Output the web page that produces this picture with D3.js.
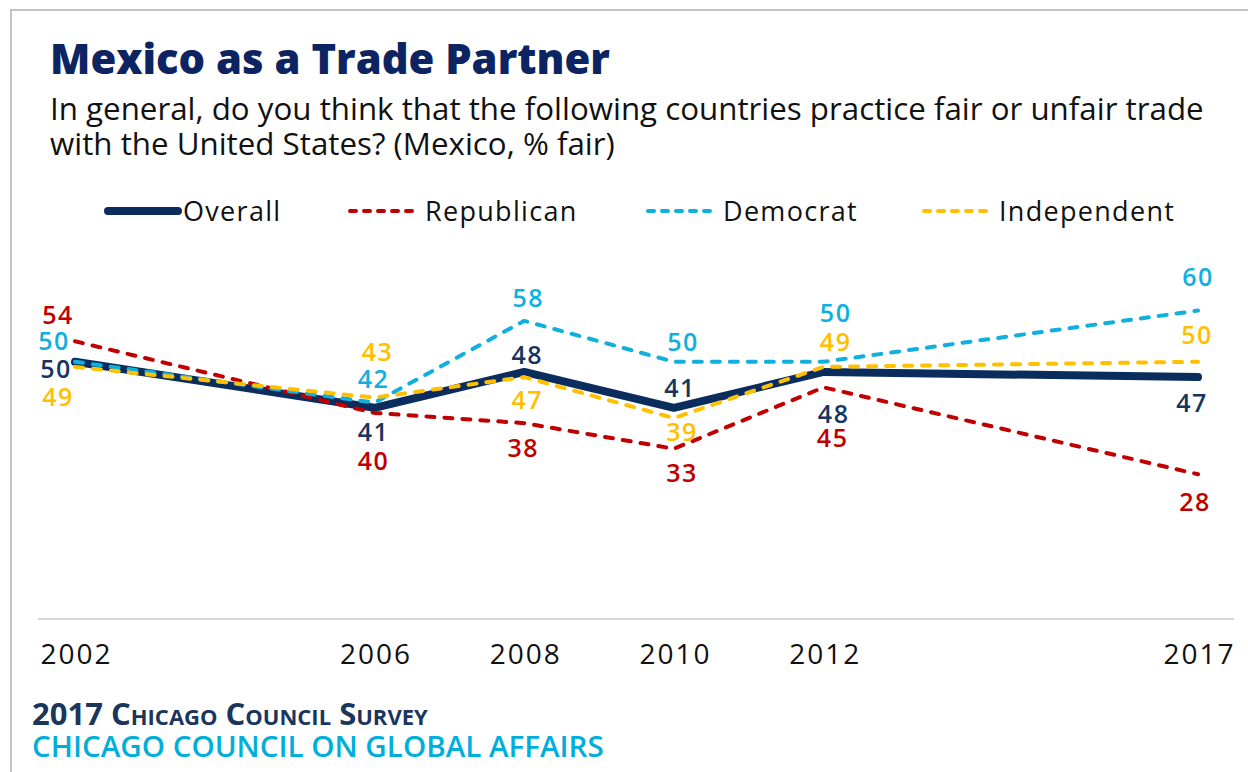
<!DOCTYPE html>
<html>
<head>
<meta charset="utf-8">
<script src="https://cdn.jsdelivr.net/npm/d3@7"></script>
<style>
  body { margin: 0; background: #fff; }
  svg { display: block; }
  text { font-family: "Open Sans", "Noto Sans", sans-serif; }
</style>
</head>
<body>
<svg id="chart" width="1248" height="772"></svg>
<script>
// Survey years and share (%) saying Mexico practices fair trade
const years = [2002, 2006, 2008, 2010, 2012, 2017];
const overall = [50, 41, 48, 41, 48, 47];
const republican = [54, 40, 38, 33, 45, 28];
const democrat = [50, 42, 58, 50, 50, 60];
const independent = [49, 43, 47, 39, 49, 50];
const seriesNames = ["Overall", "Republican", "Democrat", "Independent"];

// Per-point label nudges [dx, dy] from each data point (layout only)
const labelNudges = {
  Overall:     [[-20, 7], [-2, 24], [2, -17], [5, -20], [9, 42], [-7, 26]],
  Republican:  [[-18, -26], [-2, 48], [-2, 25], [7, 24], [8, 51], [-4, 28]],
  Democrat:    [[-22, -21], [-2, -24], [3, -23], [8, -20], [11, -49], [-1, -34]],
  Independent: [[-18, 30], [2, -46], [2, 23], [7, 14], [11, -25], [-2, -27]]
};

const series = [
  { name: seriesNames[0], values: overall, color: "#0b2d5e", labelColor: "#17355f", width: 8, dash: null, legendDash: null },
  { name: seriesNames[1], values: republican, color: "#c00000", labelColor: "#c00000", width: 4, dash: "8,10", legendDash: "6,8" },
  { name: seriesNames[2], values: democrat, color: "#0fb0dd", labelColor: "#0fb0dd", width: 4, dash: "8,10", legendDash: "6,8" },
  { name: seriesNames[3], values: independent, color: "#ffc000", labelColor: "#ffc000", width: 4, dash: "8,10", legendDash: "6,8" }
];

const svg = d3.select("#chart");

// Frame lines on top and left
svg.append("line").attr("x1", 11).attr("y1", 10).attr("x2", 1248).attr("y2", 10)
  .attr("stroke", "#c3c3c3").attr("stroke-width", 2);
svg.append("line").attr("x1", 11).attr("y1", 9).attr("x2", 11).attr("y2", 772)
  .attr("stroke", "#c3c3c3").attr("stroke-width", 2);

// Scale a text's font size so that it spans the given width
function fitWidth(sel, width) {
  const w = sel.node().getComputedTextLength();
  const fs = parseFloat(sel.attr("font-size"));
  const size = fs * width / w;
  sel.attr("font-size", size);
  return size;
}

// Title and question text
const title = svg.append("text").attr("x", 50).attr("y", 74)
  .attr("font-size", 43).attr("font-weight", 800).attr("fill", "#0c2461")
  .text("Mexico as a Trade Partner");
fitWidth(title, 560);

const sub1 = svg.append("text").attr("x", 50).attr("y", 120)
  .attr("font-size", 28).attr("fill", "#111")
  .text("In general, do you think that the following countries practice fair or unfair trade");
const subSize = fitWidth(sub1, 1154);
svg.append("text").attr("x", 50).attr("y", 155)
  .attr("font-size", subSize).attr("fill", "#111")
  .text("with the United States? (Mexico, % fair)");

// Scales
const x = d3.scaleLinear().domain([2002, 2017]).range([75, 1198]);
const y = d3.scaleLinear().domain([0, 100]).range([617.5, 106]);

// Legend
const legendPos = [106, 348, 646, 922];
const legend = svg.append("g");
series.forEach((s, i) => {
  const g = legend.append("g").attr("transform", `translate(${legendPos[i]},211)`);
  g.append("line").attr("x1", 2).attr("x2", 72).attr("y1", 0).attr("y2", 0)
    .attr("stroke", s.color).attr("stroke-width", s.width)
    .attr("stroke-linecap", "round")
    .attr("stroke-dasharray", s.legendDash);
  g.append("text").attr("x", 77).attr("y", 0).attr("dy", "0.36em")
    .attr("font-size", 27).attr("letter-spacing", 1.3).attr("fill", "#111").text(s.name);
});

// Baseline and year axis
svg.append("line").attr("x1", 38).attr("x2", 1234).attr("y1", 619).attr("y2", 619)
  .attr("stroke", "#d9d9d9").attr("stroke-width", 2);

const xAxis = d3.axisBottom(x).tickValues(years).tickSize(0).tickFormat(d3.format("d"));
const axisG = svg.append("g").attr("transform", "translate(0,619)").call(xAxis);
axisG.select(".domain").remove();
axisG.selectAll("text")
  .attr("font-family", "'Open Sans', sans-serif")
  .attr("font-size", 28).attr("letter-spacing", 2).attr("fill", "#111")
  .attr("x", 1)
  .attr("y", 0).attr("dy", "1.6em");

// Lines
const line = d3.line().x((d, i) => x(years[i])).y(d => y(d));
series.forEach(s => {
  svg.append("path").datum(s.values)
    .attr("d", line)
    .attr("fill", "none")
    .attr("stroke", s.color)
    .attr("stroke-width", s.width)
    .attr("stroke-linecap", "round")
    .attr("stroke-linejoin", "round")
    .attr("stroke-dasharray", s.dash);
});

// Value labels
series.forEach(s => {
  svg.append("g").selectAll("text").data(s.values).join("text")
    .attr("x", (d, i) => x(years[i]) + labelNudges[s.name][i][0] + 1)
    .attr("y", (d, i) => y(d) + labelNudges[s.name][i][1])
    .attr("dy", "0.36em")
    .attr("text-anchor", "middle")
    .attr("font-size", 25).attr("font-weight", 600).attr("letter-spacing", 1.5)
    .attr("fill", s.labelColor)
    .text(d => d);
});

// Source lines
const src1 = svg.append("text").attr("x", 32).attr("y", 725)
  .attr("font-size", 26).attr("font-weight", 700).attr("fill", "#1b365d")
  .style("font-variant", "small-caps")
  .text("2017 Chicago Council Survey");
fitWidth(src1, 390);
const src2 = svg.append("text").attr("x", 32).attr("y", 757)
  .attr("font-size", 26).attr("font-weight", 600).attr("fill", "#00aedb")
  .text("CHICAGO COUNCIL ON GLOBAL AFFAIRS");
fitWidth(src2, 572);
</script>
</body>
</html>
